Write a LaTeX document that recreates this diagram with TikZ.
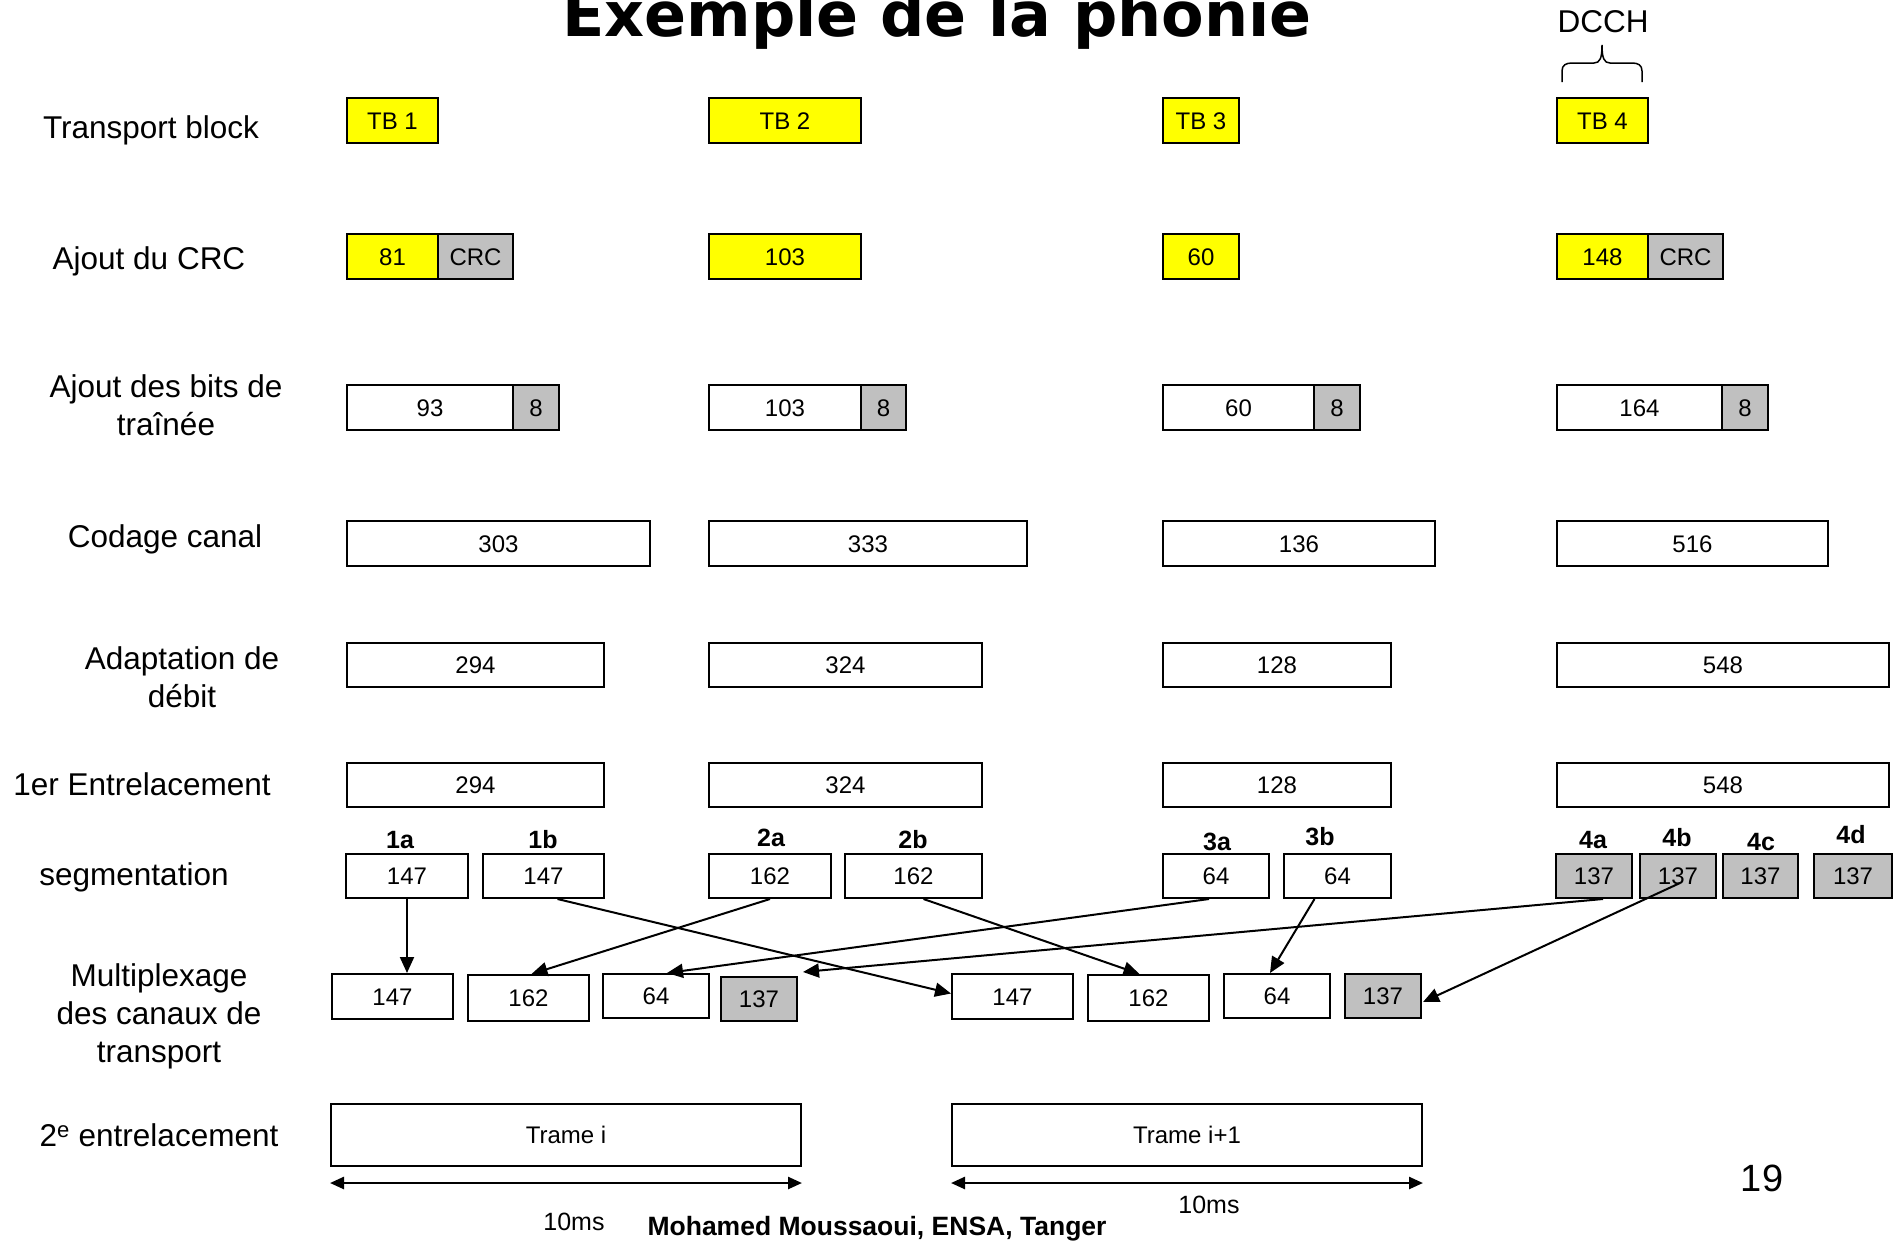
\documentclass[tikz,border=0pt]{standalone}
\usepackage{fontspec}
\setmainfont{Liberation Sans}
\newfontfamily\titlefont{DejaVu Sans}
\usetikzlibrary{arrows.meta,calc}
\definecolor{ylw}{HTML}{FFFF00}
\definecolor{gry}{HTML}{C0C0C0}
\tikzset{
  bx/.style={draw, line width=2pt, inner sep=0pt, font=\fontsize{24}{28}\selectfont, text height=17.2pt, text depth=0pt},
  lbl/.style={align=center, font=\fontsize{31.5}{38}\selectfont, inner sep=0pt},
  seglbl/.style={font=\bfseries\fontsize{25}{30}\selectfont, inner sep=0pt},
  arr/.style={-{Triangle[length=16pt,width=14pt]}, line width=2pt},
  darr/.style={{Triangle[length=14pt,width=12pt]}-{Triangle[length=14pt,width=12pt]}, line width=2.5pt},
}
\newcommand{\mybox}[7]{\node[bx,fill=#6,minimum width={(#4-#2)*1pt},minimum height={(#5-#3)*1pt}] (#1) at ({(#2+#4)/2},{(#3+#5)/2}) {#7};}
\begin{document}
\begin{tikzpicture}[x=1pt,y=-1pt]
\useasboundingbox[fill=white] (0,0) rectangle (1901,1243);
% title
\node[anchor=base, inner sep=0pt, font=\titlefont\bfseries\fontsize{62}{70}\selectfont] (title) at (937,36) {Exemple de la phonie};
% row labels
\node[lbl] (l1) at (151,130) {Transport block};
\node[lbl] (l2) at (149,261) {Ajout du CRC};
\node[lbl] (l3) at (166,405) {Ajout des bits de\\traînée};
\node[lbl] (l4) at (165,539) {Codage canal};
\node[lbl] (l5) at (182,677) {Adaptation de\\débit};
\node[lbl] (l6) at (142,784) {1er Entrelacement};
\node[lbl] (l7) at (134,877) {segmentation};
\node[lbl] (l8) at (159,1016) {Multiplexage\\des canaux de\\transport};
\node[lbl] (l9) at (159,1135) {2\textsuperscript{e} entrelacement};
% DCCH
\node[lbl] (dcch) at (1603,22) {DCCH};
\draw[line width=1.5pt] (1562,82) -- (1562,71) .. controls (1562,65) and (1566,63) .. (1572,63) -- (1594,63) .. controls (1600,63) and (1602,58) .. (1602,45) .. controls (1602,58) and (1604,63) .. (1610,63) -- (1632,63) .. controls (1638,63) and (1642,65) .. (1642,71) -- (1642,82);
% row 1
\mybox{tb1}{347}{98}{438}{143}{ylw}{TB 1}
\mybox{tb2}{709}{98}{861}{143}{ylw}{TB 2}
\mybox{tb3}{1163}{98}{1239}{143}{ylw}{TB 3}
\mybox{tb4}{1557}{98}{1648}{143}{ylw}{TB 4}
% row 2
\mybox{c81}{347}{234}{438}{279}{ylw}{81}
\mybox{crc1}{438}{234}{513}{279}{gry}{CRC}
\mybox{c103}{709}{234}{861}{279}{ylw}{103}
\mybox{c60}{1163}{234}{1239}{279}{ylw}{60}
\mybox{c148}{1557}{234}{1648}{279}{ylw}{148}
\mybox{crc4}{1648}{234}{1723}{279}{gry}{CRC}
% row 3
\mybox{t93}{347}{385}{513}{430}{white}{93}
\mybox{t8a}{513}{385}{559}{430}{gry}{8}
\mybox{t103}{709}{385}{861}{430}{white}{103}
\mybox{t8b}{861}{385}{906}{430}{gry}{8}
\mybox{t60}{1163}{385}{1314}{430}{white}{60}
\mybox{t8c}{1314}{385}{1360}{430}{gry}{8}
\mybox{t164}{1557}{385}{1722}{430}{white}{164}
\mybox{t8d}{1722}{385}{1768}{430}{gry}{8}
% row 4
\mybox{k1}{347}{521}{650}{566}{white}{303}
\mybox{k2}{709}{521}{1027}{566}{white}{333}
\mybox{k3}{1163}{521}{1435}{566}{white}{136}
\mybox{k4}{1557}{521}{1828}{566}{white}{516}
% row 5
\mybox{a1}{347}{643}{604}{687}{white}{294}
\mybox{a2}{709}{643}{982}{687}{white}{324}
\mybox{a3}{1163}{643}{1391}{687}{white}{128}
\mybox{a4}{1557}{643}{1889}{687}{white}{548}
% row 6
\mybox{e1}{347}{763}{604}{807}{white}{294}
\mybox{e2}{709}{763}{982}{807}{white}{324}
\mybox{e3}{1163}{763}{1391}{807}{white}{128}
\mybox{e4}{1557}{763}{1889}{807}{white}{548}
% row 7 segmentation
\mybox{s1a}{346}{854}{468}{898}{white}{147}
\mybox{s1b}{483}{854}{604}{898}{white}{147}
\mybox{s2a}{709}{854}{831}{898}{white}{162}
\mybox{s2b}{845}{854}{982}{898}{white}{162}
\mybox{s3a}{1163}{854}{1269}{898}{white}{64}
\mybox{s3b}{1284}{854}{1391}{898}{white}{64}
\mybox{s4a}{1556}{854}{1632}{898}{gry}{137}
\mybox{s4b}{1640}{854}{1716}{898}{gry}{137}
\mybox{s4c}{1723}{854}{1798}{898}{gry}{137}
\mybox{s4d}{1814}{854}{1892}{898}{gry}{137}
\node[seglbl] (n1a) at (400,840) {1a};
\node[seglbl] (n1b) at (543,840) {1b};
\node[seglbl] (n2a) at (771,838) {2a};
\node[seglbl] (n2b) at (913,840) {2b};
\node[seglbl] (n3a) at (1217,842) {3a};
\node[seglbl] (n3b) at (1320,837) {3b};
\node[seglbl] (n4a) at (1593,840) {4a};
\node[seglbl] (n4b) at (1677,838) {4b};
\node[seglbl] (n4c) at (1761,842) {4c};
\node[seglbl] (n4d) at (1851,835) {4d};
% row 8 multiplexing
\mybox{m1}{332}{974}{453}{1019}{white}{147}
\mybox{m2}{468}{975}{589}{1021}{white}{162}
\mybox{m3}{603}{974}{709}{1018}{white}{64}
\mybox{m4}{721}{977}{797}{1021}{gry}{137}
\mybox{m5}{952}{974}{1073}{1019}{white}{147}
\mybox{m6}{1088}{975}{1209}{1021}{white}{162}
\mybox{m7}{1224}{974}{1330}{1018}{white}{64}
\mybox{m8}{1345}{974}{1421}{1018}{gry}{137}
% row 9
\mybox{tri}{331}{1104}{801}{1166}{white}{Trame i}
\mybox{trj}{952}{1104}{1422}{1166}{white}{Trame i+1}
% arrows
\draw[arr] (s1a.south) -- (s1a.south |- m1.north);
\draw[arr] ($(s1b.south)+(14,0)$) -- ($(m5.west)+(0,-3)$);
\draw[arr] (s2a.south) -- ($(m2.north)+(3,0)$);
\draw[arr] ($(s2b.south)+(10,0)$) -- ($(m6.north)+(-9,0)$);
\draw[arr] ($(s3a.south)+(-7,0)$) -- ($(m3.north)+(11,0)$);
\draw[arr] ($(s3b.south)+(-23,0)$) -- ($(m7.north)+(-7,0)$);
\draw[arr] ($(s4a.south)+(9,0)$) -- ($(m4.north east)+(5,-4)$);
\draw[arr] ($(s4b.center)+(2,7)$) -- ($(m8.east)+(1,6)$);
% time arrows
\draw[darr] ($(tri.south west)+(0,16)$) -- ($(tri.south east)+(0,16)$);
\draw[darr] ($(trj.south west)+(0,16)$) -- ($(trj.south east)+(0,16)$);
\node[font=\fontsize{25}{30}\selectfont, inner sep=0pt] (ms1) at (574,1222) {10ms};
\node[font=\fontsize{25}{30}\selectfont, inner sep=0pt] (ms2) at (1209,1205) {10ms};
\node[font=\bfseries\fontsize{26.5}{30}\selectfont, inner sep=0pt] (auth) at (877,1229) {Mohamed Moussaoui, ENSA, Tanger};
\node[font=\fontsize{38}{44}\selectfont, inner sep=0pt] (pg) at (1762,1178) {19};
\end{tikzpicture}
\end{document}
